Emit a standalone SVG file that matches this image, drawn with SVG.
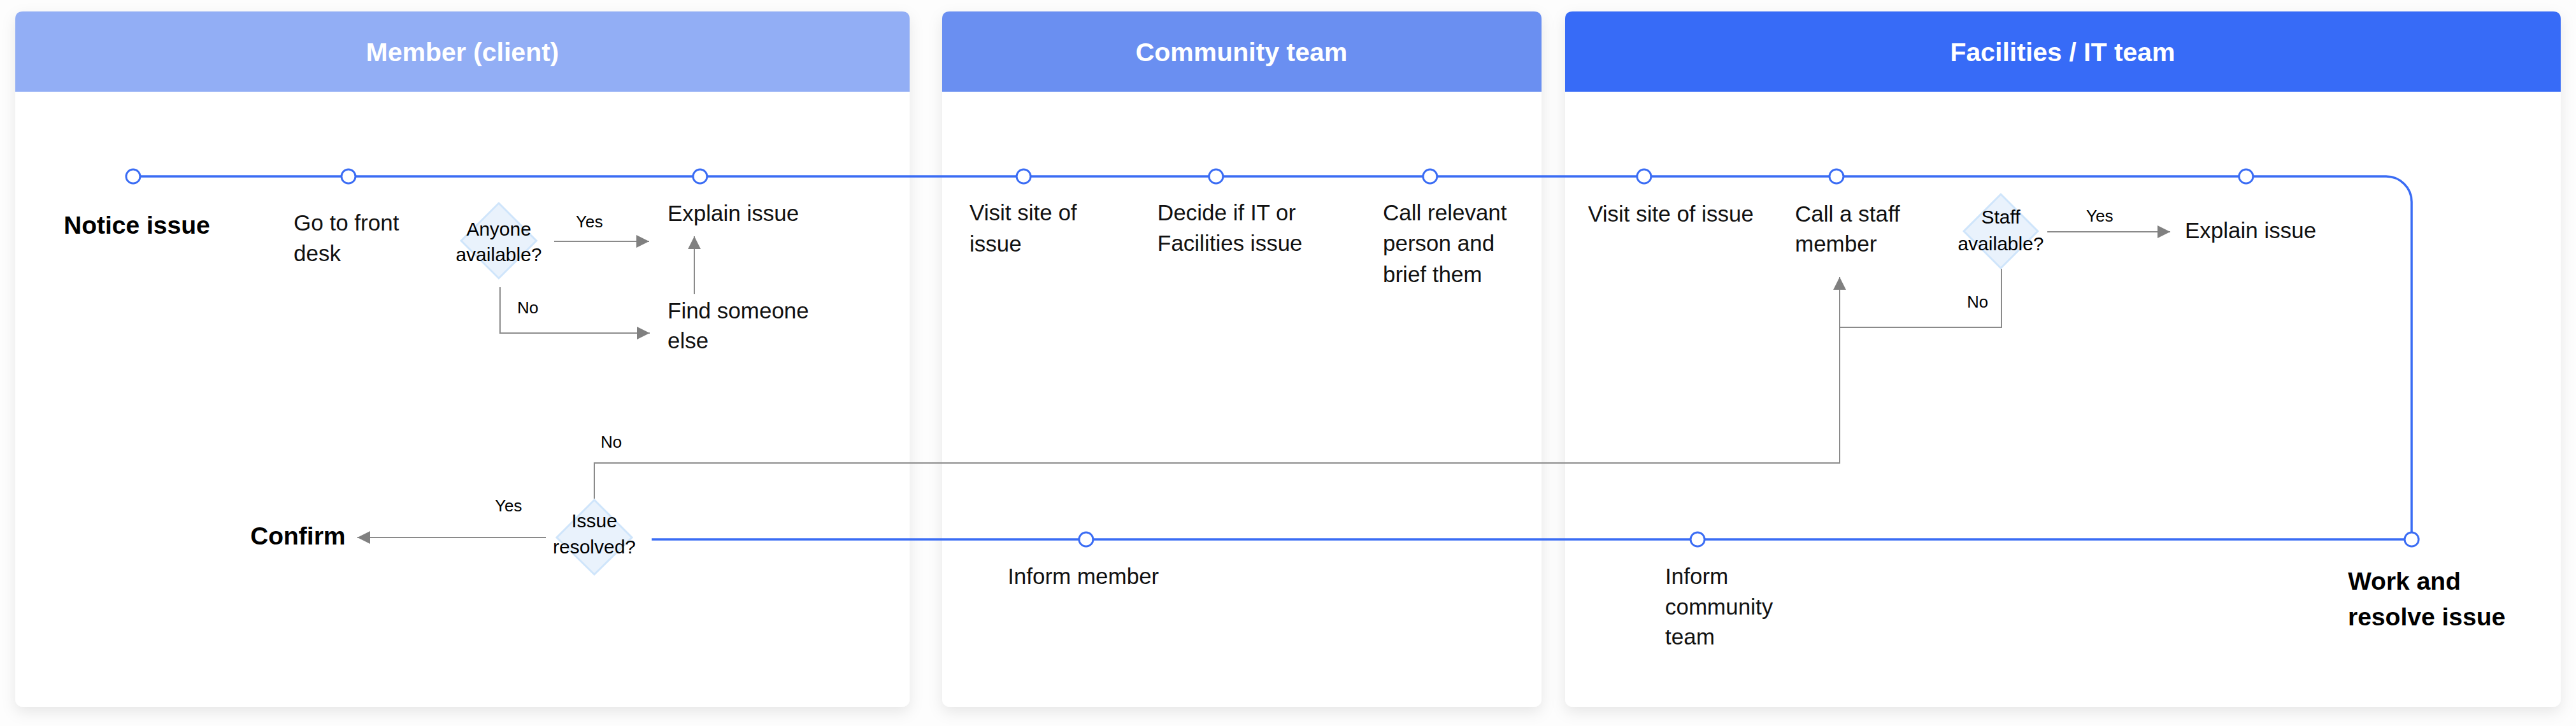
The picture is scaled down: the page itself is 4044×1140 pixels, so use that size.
<svg xmlns="http://www.w3.org/2000/svg" width="4044" height="1140" viewBox="0 0 4044 1140">
  <defs>
    <filter id="shadow" x="-5%" y="-5%" width="110%" height="115%">
      <feDropShadow dx="0" dy="8" stdDeviation="11" flood-color="#000" flood-opacity="0.09"/>
    </filter>
    <marker id="arrow" markerUnits="userSpaceOnUse" markerWidth="20" markerHeight="20" refX="20" refY="10" orient="auto">
      <path d="M0,0 L20,10 L0,20 Z" fill="#808080"/>
    </marker>
    <style>
      .title { font-family: "Liberation Sans", Arial, sans-serif; font-size: 41px; font-weight: bold; fill: #ffffff; text-anchor: middle; }
      .lbl { font-family: "Liberation Sans", Arial, sans-serif; font-size: 35px; fill: #111111; }
      .bold { font-family: "Liberation Sans", Arial, sans-serif; font-size: 39px; font-weight: bold; fill: #000000; }
      .dtext { font-family: "Liberation Sans", Arial, sans-serif; font-size: 30px; fill: #000000; text-anchor: middle; }
      .small { font-family: "Liberation Sans", Arial, sans-serif; font-size: 26px; fill: #000000; }
      .blue { fill: none; stroke: #3a6cf4; stroke-width: 3.5; }
      .gray { fill: none; stroke: #8a8a8a; stroke-width: 2; }
      .dot { fill: #ffffff; stroke: #3a6cf4; stroke-width: 3; }
      .diamond { fill: #e9f2fc; stroke: #cfe5fb; stroke-width: 3; }
      .panel { fill: #ffffff; filter: url(#shadow); }
    </style>
  </defs>

  <rect x="0" y="0" width="4044" height="1140" fill="#fdfdfd"/>

  <g id="lanes">
    <g id="lane-member">
      <rect class="panel" x="24" y="18" width="1404" height="1092" rx="12"/>
      <path d="M24 144 V30 Q24 18 36 18 H1416 Q1428 18 1428 30 V144 Z" fill="#92aef5"/>
      <text class="title" x="726" y="96">Member (client)</text>
    </g>
    <g id="lane-community">
      <rect class="panel" x="1479" y="18" width="941" height="1092" rx="12"/>
      <path d="M1479 144 V30 Q1479 18 1491 18 H2408 Q2420 18 2420 30 V144 Z" fill="#6a8ff1"/>
      <text class="title" x="1949" y="96">Community team</text>
    </g>
    <g id="lane-facilities">
      <rect class="panel" x="2457" y="18" width="1563" height="1092" rx="12"/>
      <path d="M2457 144 V30 Q2457 18 2469 18 H4008 Q4020 18 4020 30 V144 Z" fill="#376bf7"/>
      <text class="title" x="3238" y="96">Facilities / IT team</text>
    </g>
  </g>

  <g id="connectors">
    <path class="blue" d="M209 277 H3746 A40 40 0 0 1 3786 317 V847"/>
    <path class="blue" d="M1023 847 H3786"/>
    <path class="gray" d="M870 379 H1019" marker-end="url(#arrow)"/>
    <path class="gray" d="M785 451 V523 H1020" marker-end="url(#arrow)"/>
    <path class="gray" d="M1090 462 V371" marker-end="url(#arrow)"/>
    <path class="gray" d="M857 844 H561" marker-end="url(#arrow)"/>
    <path class="gray" d="M933 783 V727 H2888 V435" marker-end="url(#arrow)"/>
    <path class="gray" d="M3142 422 V514 H2888"/>
    <path class="gray" d="M3214 364 H3407" marker-end="url(#arrow)"/>
    <text class="small" x="904" y="357">Yes</text>
    <text class="small" x="812" y="492">No</text>
    <text class="small" x="777" y="803">Yes</text>
    <text class="small" x="943" y="703">No</text>
    <text class="small" x="3275" y="348">Yes</text>
    <text class="small" x="3088" y="483">No</text>
  </g>

  <g id="nodes">
    <g id="n-notice">
      <circle class="dot" cx="209" cy="277" r="11"/>
      <text class="bold" x="100" y="367">Notice issue</text>
    </g>
    <g id="n-frontdesk">
      <circle class="dot" cx="547" cy="277" r="11"/>
      <text class="lbl" x="461" y="362">Go to front</text>
      <text class="lbl" x="461" y="410">desk</text>
    </g>
    <g id="d-anyone">
      <polygon class="diamond" points="783,319 842,378 783,437 724,378"/>
      <text class="dtext" x="783" y="370">Anyone</text>
      <text class="dtext" x="783" y="410">available?</text>
    </g>
    <g id="n-explain1">
      <circle class="dot" cx="1099" cy="277" r="11"/>
      <text class="lbl" x="1048" y="347">Explain issue</text>
    </g>
    <g id="n-findsomeone">
      <text class="lbl" x="1048" y="500">Find someone</text>
      <text class="lbl" x="1048" y="547">else</text>
    </g>
    <g id="n-visit1">
      <circle class="dot" cx="1607" cy="277" r="11"/>
      <text class="lbl" x="1522" y="346">Visit site of</text>
      <text class="lbl" x="1522" y="395">issue</text>
    </g>
    <g id="n-decide">
      <circle class="dot" cx="1909" cy="277" r="11"/>
      <text class="lbl" x="1817" y="346">Decide if IT or</text>
      <text class="lbl" x="1817" y="394">Facilities issue</text>
    </g>
    <g id="n-callrelevant">
      <circle class="dot" cx="2245" cy="277" r="11"/>
      <text class="lbl" x="2171" y="346">Call relevant</text>
      <text class="lbl" x="2171" y="394">person and</text>
      <text class="lbl" x="2171" y="443">brief them</text>
    </g>
    <g id="n-visit2">
      <circle class="dot" cx="2581" cy="277" r="11"/>
      <text class="lbl" x="2493" y="348">Visit site of issue</text>
    </g>
    <g id="n-callstaff">
      <circle class="dot" cx="2883" cy="277" r="11"/>
      <text class="lbl" x="2818" y="348">Call a staff</text>
      <text class="lbl" x="2818" y="395">member</text>
    </g>
    <g id="d-staff">
      <polygon class="diamond" points="3141,305 3199,363 3141,421 3083,363"/>
      <text class="dtext" x="3141" y="351">Staff</text>
      <text class="dtext" x="3141" y="393">available?</text>
    </g>
    <g id="n-explain2">
      <circle class="dot" cx="3526" cy="277" r="11"/>
      <text class="lbl" x="3430" y="374">Explain issue</text>
    </g>
    <g id="n-work">
      <circle class="dot" cx="3786" cy="847" r="11"/>
      <text class="bold" x="3686" y="926">Work and</text>
      <text class="bold" x="3686" y="982">resolve issue</text>
    </g>
    <g id="n-informcommunity">
      <circle class="dot" cx="2665" cy="847" r="11"/>
      <text class="lbl" x="2614" y="917">Inform</text>
      <text class="lbl" x="2614" y="965">community</text>
      <text class="lbl" x="2614" y="1012">team</text>
    </g>
    <g id="n-informmember">
      <circle class="dot" cx="1705" cy="847" r="11"/>
      <text class="lbl" x="1582" y="917">Inform member</text>
    </g>
    <g id="d-resolved">
      <polygon class="diamond" points="933,785 992,844 933,902 874,844"/>
      <text class="dtext" x="933" y="828">Issue</text>
      <text class="dtext" x="933" y="869">resolved?</text>
    </g>
    <g id="n-confirm">
      <text class="bold" x="393" y="855">Confirm</text>
    </g>
  </g>
</svg>
